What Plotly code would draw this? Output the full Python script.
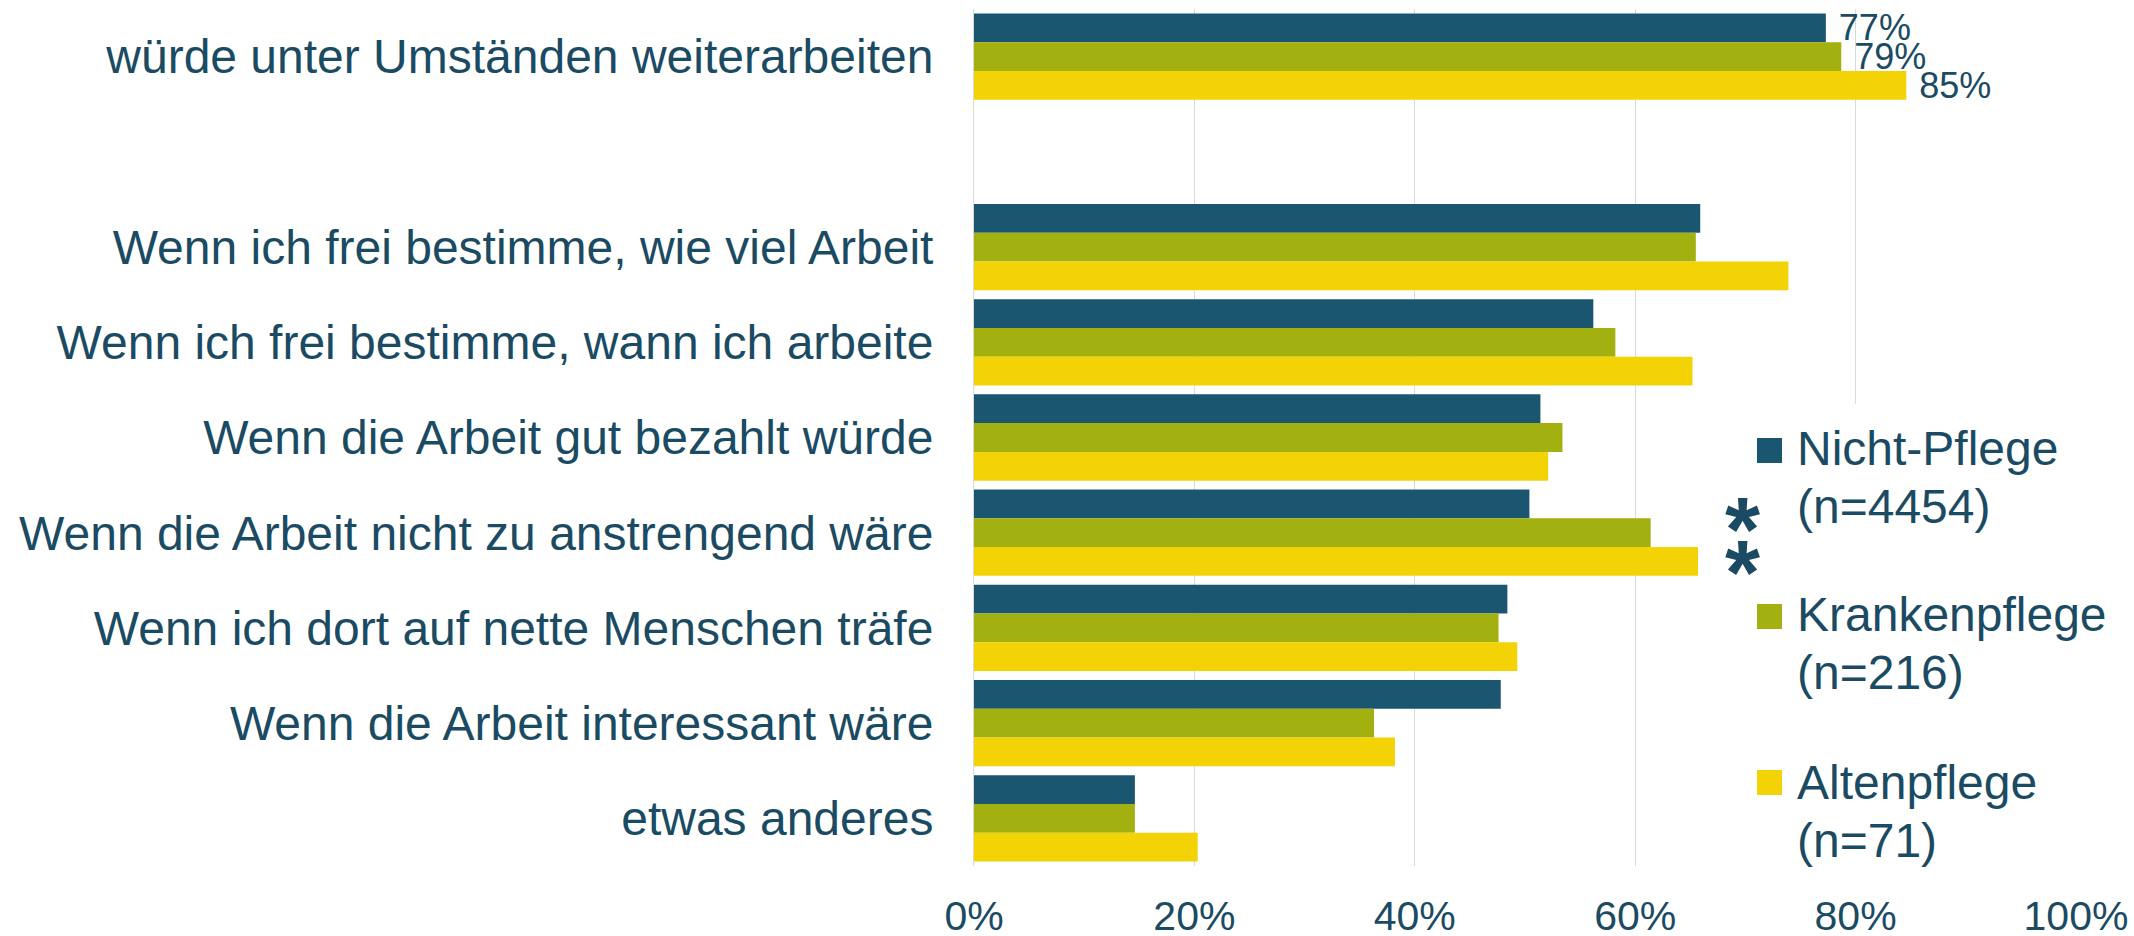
import plotly.graph_objects as go

# ---------------- data ----------------
categories = [
    "würde unter Umständen weiterarbeiten",
    " ",
    "Wenn ich frei bestimme, wie viel Arbeit",
    "Wenn ich frei bestimme, wann ich arbeite",
    "Wenn die Arbeit gut bezahlt würde",
    "Wenn die Arbeit nicht zu anstrengend wäre",
    "Wenn ich dort auf nette Menschen träfe",
    "Wenn die Arbeit interessant wäre",
    "etwas anderes",
]
series_names = ["Nicht-Pflege", "Krankenpflege", "Altenpflege"]
series_n = [4454, 216, 71]
nicht_pflege = [77.3, None, 65.9, 56.2, 51.4, 50.4, 48.4, 47.8, 14.6]
krankenpflege = [78.7, None, 65.5, 58.2, 53.4, 61.4, 47.6, 36.3, 14.6]
altenpflege = [84.6, None, 73.9, 65.2, 52.1, 65.7, 49.3, 38.2, 20.3]
labeled_categories = ["würde unter Umständen weiterarbeiten"]
x_tickvals = [0, 20, 40, 60, 80, 100]
x_ticktext = ["0%", "20%", "40%", "60%", "80%", "100%"]
significance_marks = ["*", "*"]

# ---------------- style ----------------
COLORS = ["#1B5670", "#A2B110", "#F4D306"]
TEXT = "#1B4B63"
GRID = "#D9D9D9"
FONT = "Liberation Sans, Arial, sans-serif"

W, H = 2134, 936
ML, MR, MT, MB = 974, 58, 9, 70
PW = W - ML - MR
PH = H - MT - MB


def px(xp):
    return (xp - ML) / PW


def py(yp):
    return (H - MB - yp) / PH


fig = go.Figure()
for name, vals, color in zip(series_names, [nicht_pflege, krankenpflege, altenpflege], COLORS):
    text = [
        ("\u00a0" + f"{v:.0f}%") if (c in labeled_categories and v is not None) else ""
        for c, v in zip(categories, vals)
    ]
    fig.add_trace(go.Bar(
        y=categories, x=vals, orientation="h", name=name,
        marker=dict(color=color, line=dict(width=0)),
        text=text, textposition="outside", constraintext="none", cliponaxis=False,
        textfont=dict(size=36, color=TEXT, family=FONT),
        showlegend=False, hoverinfo="skip",
    ))

shapes = []
annotations = []
# legend background (hides gridlines behind the legend)
shapes.append(dict(type="rect", xref="paper", yref="paper", layer="above",
                   x0=px(1712), x1=px(W), y0=py(H - MB), y1=py(404),
                   fillcolor="white", line=dict(width=0)))
square_tops = [438, 604, 770]
baselines = [464, 630, 798]
for name, n, color, top, base in zip(series_names, series_n, COLORS, square_tops, baselines):
    shapes.append(dict(type="rect", xref="paper", yref="paper", layer="above",
                       x0=px(1757), x1=px(1782), y0=py(top + 25), y1=py(top),
                       fillcolor=color, line=dict(width=0)))
    for k, line in enumerate([name, f"(n={n})"]):
        b = base + 58 * k
        annotations.append(dict(xref="paper", yref="paper", x=px(1795), y=py(b - 44.4),
                                xanchor="left", yanchor="top", showarrow=False, text=line,
                                font=dict(size=48, color=TEXT, family=FONT)))
# significance asterisks
for k, mark in enumerate(significance_marks):
    annotations.append(dict(xref="paper", yref="paper", x=px(1742), y=py(478 + 43 * k),
                            xanchor="center", yanchor="top", showarrow=False, text=mark,
                            font=dict(size=90, color=TEXT, family=FONT, weight="bold")))

fig.update_layout(
    width=W, height=H,
    margin=dict(l=ML, r=MR, t=MT, b=MB, pad=0, autoexpand=False),
    paper_bgcolor="white", plot_bgcolor="white",
    barmode="group", bargap=0.094, bargroupgap=0,
    font=dict(family=FONT, color=TEXT),
    shapes=shapes, annotations=annotations,
    xaxis=dict(range=[0, 100], tickvals=x_tickvals, ticktext=x_ticktext,
               showgrid=True, gridcolor=GRID, gridwidth=1, zeroline=False,
               showline=False, ticks="", ticklabelstandoff=22, automargin=False,
               tickfont=dict(size=41, color=TEXT, family=FONT)),
    yaxis=dict(categoryorder="array", categoryarray=categories, autorange="reversed",
               showgrid=False, zeroline=False, showline=True, linecolor=GRID, linewidth=1,
               ticks="", ticklabelstandoff=30, automargin=False,
               tickfont=dict(size=48, color=TEXT, family=FONT)),
)

fig.write_html("out.html", config={"displayModeBar": False},
               post_script="document.body.style.margin='0';document.body.style.overflow='hidden';")
